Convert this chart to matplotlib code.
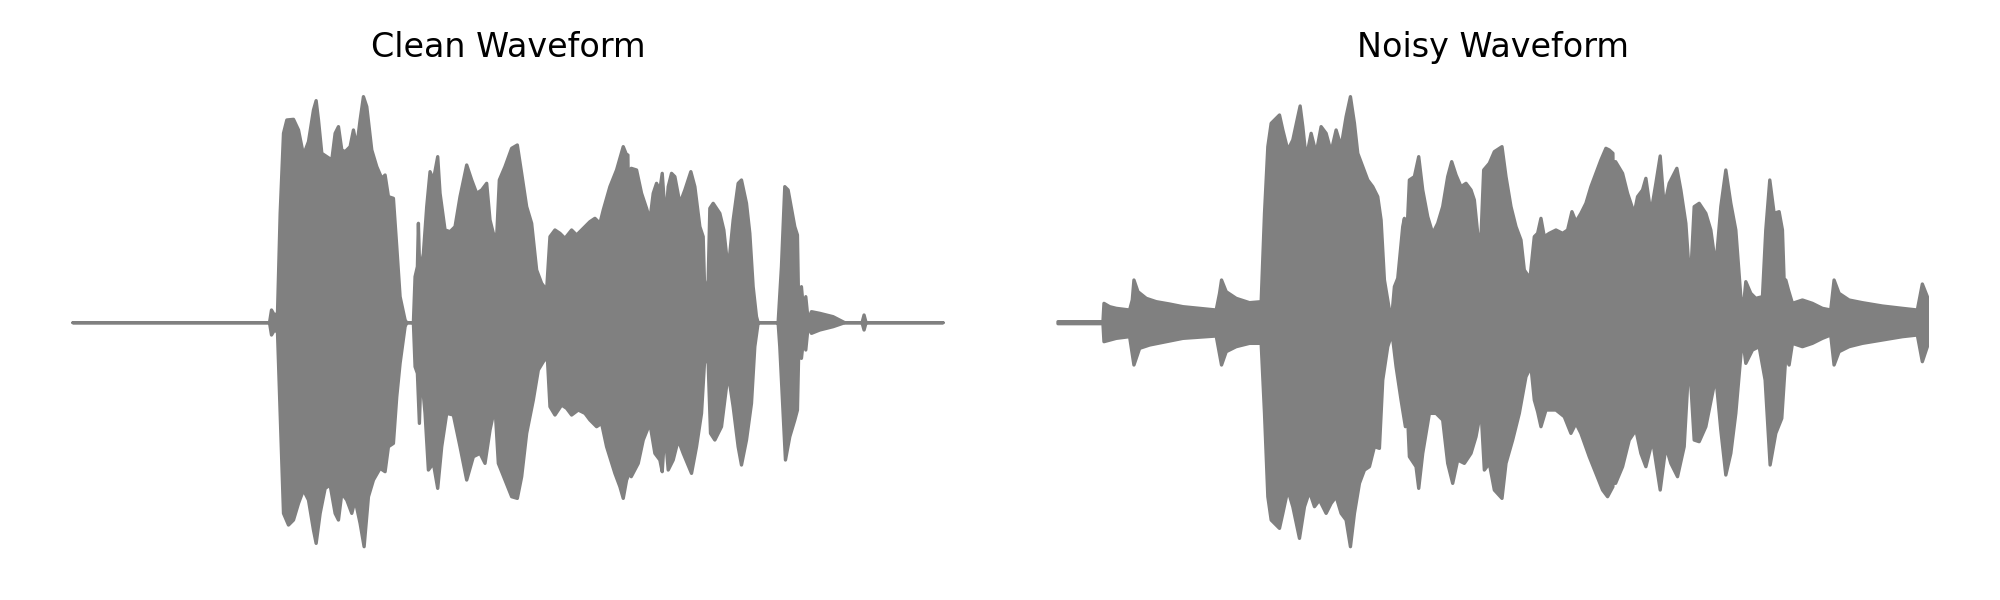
import numpy as np
import matplotlib.pyplot as plt

# 包络数据：时间(ms) 与 幅值
clean_top_t = [0, 590, 596, 606, 614, 622, 632, 642, 662, 677, 692, 707, 722, 730, 737, 747, 762, 777, 787,
               797, 807, 817, 832, 842, 852, 862, 872, 882, 897, 912, 927, 937, 947, 962, 972, 982, 997,
               1002, 1022, 1027, 1034, 1037, 1041, 1052, 1062, 1072, 1082, 1095, 1102, 1117, 1132, 1147,
               1162, 1182, 1197, 1212, 1227, 1242, 1252, 1262, 1272, 1280, 1297, 1317, 1334, 1347, 1362,
               1377, 1392, 1407, 1422, 1432, 1447, 1462, 1477, 1497, 1512, 1532, 1552, 1567, 1582, 1592,
               1612, 1632, 1652, 1662, 1666, 1670, 1676, 1692, 1707, 1722, 1732, 1742, 1752, 1762, 1769,
               1779, 1787, 1797, 1807, 1822, 1837, 1855, 1867, 1882, 1892, 1897, 1907, 1912, 1922, 1942,
               1954, 1967, 1982, 1997, 2007, 2022, 2032, 2042, 2052, 2057, 2117, 2127, 2137, 2147, 2157,
               2167, 2175, 2179, 2187, 2194, 2200, 2207, 2217, 2242, 2282, 2317, 2369, 2375, 2381, 2612]
clean_top = [0, 0, 0.038, 0.02, 0.03, 0.328, 0.568, 0.608, 0.610, 0.578, 0.503, 0.543, 0.638, 0.666,
             0.608, 0.508, 0.498, 0.488, 0.568, 0.588, 0.518, 0.513, 0.528, 0.578, 0.528, 0.608, 0.678,
             0.648, 0.518, 0.468, 0.433, 0.443, 0.378, 0.373, 0.228, 0.078, 0.008, 0, 0, 0.138, 0.168,
             0.298, 0.148, 0.208, 0.348, 0.453, 0.428, 0.498, 0.388, 0.278, 0.273, 0.288, 0.378, 0.473,
             0.428, 0.388, 0.398, 0.418, 0.308, 0.268, 0.258, 0.428, 0.468, 0.523, 0.533, 0.448, 0.348,
             0.298, 0.158, 0.118, 0.098, 0.258, 0.278, 0.268, 0.253, 0.278, 0.263, 0.283, 0.303, 0.313,
             0.298, 0.338, 0.408, 0.458, 0.528, 0.503, 0.503, 0.178, 0.463, 0.458, 0.388, 0.343, 0.308,
             0.388, 0.418, 0.398, 0.448, 0.308, 0.408, 0.448, 0.438, 0.358, 0.398, 0.453, 0.408, 0.288,
             0.258, 0.078, 0.128, 0.343, 0.358, 0.328, 0.278, 0.158, 0.308, 0.418, 0.428, 0.358, 0.268,
             0.108, 0.018, 0, 0, 0.168, 0.408, 0.398, 0.343, 0.288, 0.263, 0.028, 0.108, 0.028, 0.078,
             0.008, 0.033, 0.028, 0.018, 0, 0, 0.023, 0, 0]
clean_bot_t = [0, 590, 596, 606, 614, 622, 632, 647, 662, 677, 692, 707, 722, 730, 742, 757, 772, 787,
               797, 807, 822, 837, 847, 862, 874, 887, 902, 922, 937, 947, 962, 972, 982, 997, 1002, 1022,
               1027, 1034, 1040, 1045, 1057, 1067, 1082, 1095, 1107, 1122, 1142, 1162, 1182, 1202, 1222,
               1237, 1252, 1267, 1277, 1297, 1317, 1334, 1347, 1362, 1382, 1397, 1412, 1424, 1432, 1447,
               1467, 1482, 1497, 1517, 1537, 1552, 1572, 1587, 1602, 1627, 1642, 1652, 1662, 1666, 1670,
               1676, 1697, 1712, 1732, 1747, 1762, 1769, 1777, 1787, 1802, 1817, 1832, 1857, 1872, 1887,
               1897, 1907, 1914, 1927, 1947, 1967, 1982, 1997, 2007, 2022, 2037, 2047, 2057, 2117, 2122,
               2132, 2139, 2152, 2167, 2175, 2180, 2187, 2194, 2200, 2207, 2217, 2242, 2282, 2317, 2369,
               2375, 2381, 2612]
clean_bot = [0, 0, -0.037, -0.02, -0.03, -0.272, -0.572, -0.607, -0.592, -0.542, -0.502, -0.532, -0.622,
             -0.662, -0.572, -0.497, -0.487, -0.572, -0.592, -0.512, -0.532, -0.572, -0.532, -0.602,
             -0.672, -0.522, -0.472, -0.437, -0.447, -0.372, -0.362, -0.222, -0.122, -0.012, 0, 0,
             -0.132, -0.152, -0.302, -0.142, -0.272, -0.442, -0.422, -0.497, -0.372, -0.272, -0.277,
             -0.372, -0.472, -0.402, -0.392, -0.422, -0.322, -0.252, -0.422, -0.472, -0.522, -0.527,
             -0.462, -0.332, -0.232, -0.142, -0.117, -0.102, -0.252, -0.277, -0.247, -0.257, -0.277,
             -0.262, -0.272, -0.292, -0.312, -0.302, -0.372, -0.452, -0.492, -0.527, -0.472, -0.462,
             -0.172, -0.462, -0.422, -0.352, -0.302, -0.392, -0.412, -0.447, -0.322, -0.442, -0.412,
             -0.352, -0.392, -0.452, -0.372, -0.272, -0.102, -0.122, -0.332, -0.352, -0.312, -0.152,
             -0.252, -0.372, -0.427, -0.352, -0.242, -0.072, 0, 0, -0.072, -0.272, -0.412, -0.342,
             -0.292, -0.262, -0.032, -0.107, -0.042, -0.082, -0.012, -0.032, -0.022, -0.012, 0, 0,
             -0.022, 0, 0]

noisy_top_t = [0, 135, 138, 155, 175, 215, 223, 228, 240, 265, 295, 335, 375, 425, 475, 485, 491, 505,
               535, 575, 610, 620, 630, 640, 665, 675, 690, 705, 720, 727, 735, 745, 760, 775, 790, 805,
               820, 835, 850, 865, 878, 890, 900, 915, 930, 945, 960, 970, 980, 995, 1003, 1010, 1020,
               1035, 1040, 1045, 1055, 1070, 1083, 1095, 1110, 1125, 1140, 1155, 1170, 1182, 1195, 1210,
               1225, 1240, 1250, 1260, 1270, 1278, 1295, 1310, 1333, 1345, 1360, 1375, 1390, 1400, 1417,
               1430, 1440, 1450, 1460, 1475, 1495, 1515, 1530, 1543, 1555, 1570, 1585, 1600, 1615, 1630,
               1645, 1655, 1666, 1670, 1674, 1695, 1710, 1730, 1740, 1755, 1765, 1780, 1795, 1808, 1820,
               1835, 1858, 1870, 1885, 1898, 1910, 1925, 1945, 1960, 1975, 1990, 2005, 2020, 2035, 2050,
               2057, 2065, 2080, 2095, 2115, 2125, 2137, 2150, 2165, 2175, 2180, 2185, 2193, 2205, 2235,
               2265, 2295, 2320, 2330, 2345, 2375, 2415, 2475, 2535, 2580, 2595, 2610]
noisy_top = [0.003, 0.003, 0.058, 0.048, 0.043, 0.038, 0.068, 0.128, 0.093, 0.073, 0.063, 0.056, 0.048,
             0.043, 0.038, 0.088, 0.128, 0.093, 0.073, 0.060, 0.063, 0.328, 0.528, 0.598, 0.623, 0.578,
             0.518, 0.548, 0.618, 0.650, 0.588, 0.493, 0.568, 0.508, 0.588, 0.568, 0.513, 0.578, 0.528,
             0.618, 0.678, 0.598, 0.508, 0.468, 0.428, 0.408, 0.378, 0.308, 0.128, 0.038, 0.028, 0.108,
             0.133, 0.288, 0.313, 0.208, 0.428, 0.438, 0.498, 0.398, 0.318, 0.268, 0.298, 0.348, 0.438,
             0.483, 0.443, 0.408, 0.418, 0.398, 0.368, 0.268, 0.258, 0.458, 0.478, 0.513, 0.528, 0.438,
             0.348, 0.288, 0.248, 0.158, 0.133, 0.258, 0.268, 0.313, 0.258, 0.268, 0.278, 0.268, 0.278,
             0.333, 0.303, 0.328, 0.358, 0.408, 0.448, 0.488, 0.523, 0.518, 0.508, 0.188, 0.483, 0.448,
             0.388, 0.328, 0.378, 0.398, 0.433, 0.328, 0.418, 0.500, 0.348, 0.418, 0.463, 0.398, 0.298,
             0.108, 0.348, 0.358, 0.328, 0.278, 0.168, 0.348, 0.458, 0.358, 0.278, 0.078, 0.038, 0.123,
             0.088, 0.073, 0.078, 0.278, 0.428, 0.328, 0.333, 0.278, 0.128, 0.128, 0.098, 0.058, 0.068,
             0.058, 0.043, 0.038, 0.128, 0.088, 0.068, 0.060, 0.050, 0.043, 0.038, 0.116, 0.078]
noisy_bot_t = [0, 135, 138, 175, 215, 228, 245, 275, 325, 375, 475, 491, 505, 535, 575, 610, 620, 630,
               640, 665, 675, 690, 705, 725, 740, 755, 770, 785, 805, 820, 835, 850, 865, 878, 890, 905,
               920, 935, 950, 965, 975, 990, 1003, 1015, 1030, 1043, 1047, 1055, 1075, 1083, 1095, 1115,
               1135, 1155, 1170, 1185, 1200, 1220, 1240, 1255, 1270, 1280, 1295, 1310, 1333, 1345, 1365,
               1385, 1405, 1420, 1430, 1440, 1450, 1465, 1495, 1520, 1540, 1555, 1570, 1595, 1615, 1635,
               1650, 1666, 1670, 1674, 1695, 1715, 1735, 1750, 1765, 1785, 1808, 1825, 1840, 1860, 1880,
               1895, 1910, 1925, 1945, 1975, 1990, 2005, 2020, 2035, 2055, 2065, 2085, 2105, 2123, 2138,
               2155, 2173, 2185, 2195, 2205, 2235, 2265, 2295, 2320, 2330, 2345, 2375, 2415, 2475, 2535,
               2580, 2595, 2610]
noisy_bot = [-0.003, -0.003, -0.057, -0.047, -0.042, -0.127, -0.077, -0.067, -0.057, -0.047, -0.040,
             -0.127, -0.087, -0.072, -0.062, -0.062, -0.272, -0.522, -0.592, -0.617, -0.572, -0.502,
             -0.552, -0.647, -0.552, -0.507, -0.552, -0.532, -0.572, -0.542, -0.522, -0.572, -0.592,
             -0.672, -0.572, -0.482, -0.442, -0.432, -0.372, -0.377, -0.172, -0.072, -0.032, -0.132,
             -0.232, -0.312, -0.222, -0.402, -0.432, -0.497, -0.392, -0.272, -0.272, -0.292, -0.422,
             -0.482, -0.412, -0.422, -0.392, -0.342, -0.262, -0.442, -0.422, -0.502, -0.527, -0.422,
             -0.352, -0.272, -0.162, -0.132, -0.232, -0.267, -0.312, -0.262, -0.262, -0.282, -0.332,
             -0.302, -0.332, -0.402, -0.452, -0.502, -0.522, -0.492, -0.182, -0.482, -0.432, -0.352,
             -0.322, -0.392, -0.432, -0.352, -0.502, -0.372, -0.422, -0.462, -0.372, -0.102, -0.352,
             -0.357, -0.312, -0.162, -0.322, -0.457, -0.392, -0.272, -0.042, -0.122, -0.082, -0.072,
             -0.172, -0.427, -0.332, -0.287, -0.102, -0.127, -0.062, -0.072, -0.062, -0.047, -0.037,
             -0.127, -0.087, -0.072, -0.062, -0.052, -0.042, -0.037, -0.117, -0.072]

titles = ["Clean Waveform", "Noisy Waveform"]
duration_ms = 2612


def plot_envelope(ax, top_t, top, bot_t, bot, title):
    # 上下包络拼成一个多边形
    xs = np.concatenate([top_t, bot_t[::-1]])
    ys = np.concatenate([top, bot[::-1]])
    ax.fill(xs, ys, facecolor='gray', edgecolor='gray', linewidth=2.4,
            joinstyle='round', clip_on=False)
    ax.set_xlim(0, duration_ms)
    ax.set_ylim(-0.773, 0.773)
    ax.set_title(title, fontsize=24)
    ax.axis('off')


if __name__ == '__main__':
    fig = plt.figure(figsize=(20, 6), dpi=100)
    ax1 = fig.add_axes([0.0365, 0.0327, 0.435, 0.859])
    ax2 = fig.add_axes([0.529, 0.0327, 0.435, 0.859])

    plot_envelope(ax1, clean_top_t, clean_top, clean_bot_t, clean_bot, titles[0])
    plot_envelope(ax2, noisy_top_t, noisy_top, noisy_bot_t, noisy_bot, titles[1])

    fig.savefig("out.png", dpi=100)
